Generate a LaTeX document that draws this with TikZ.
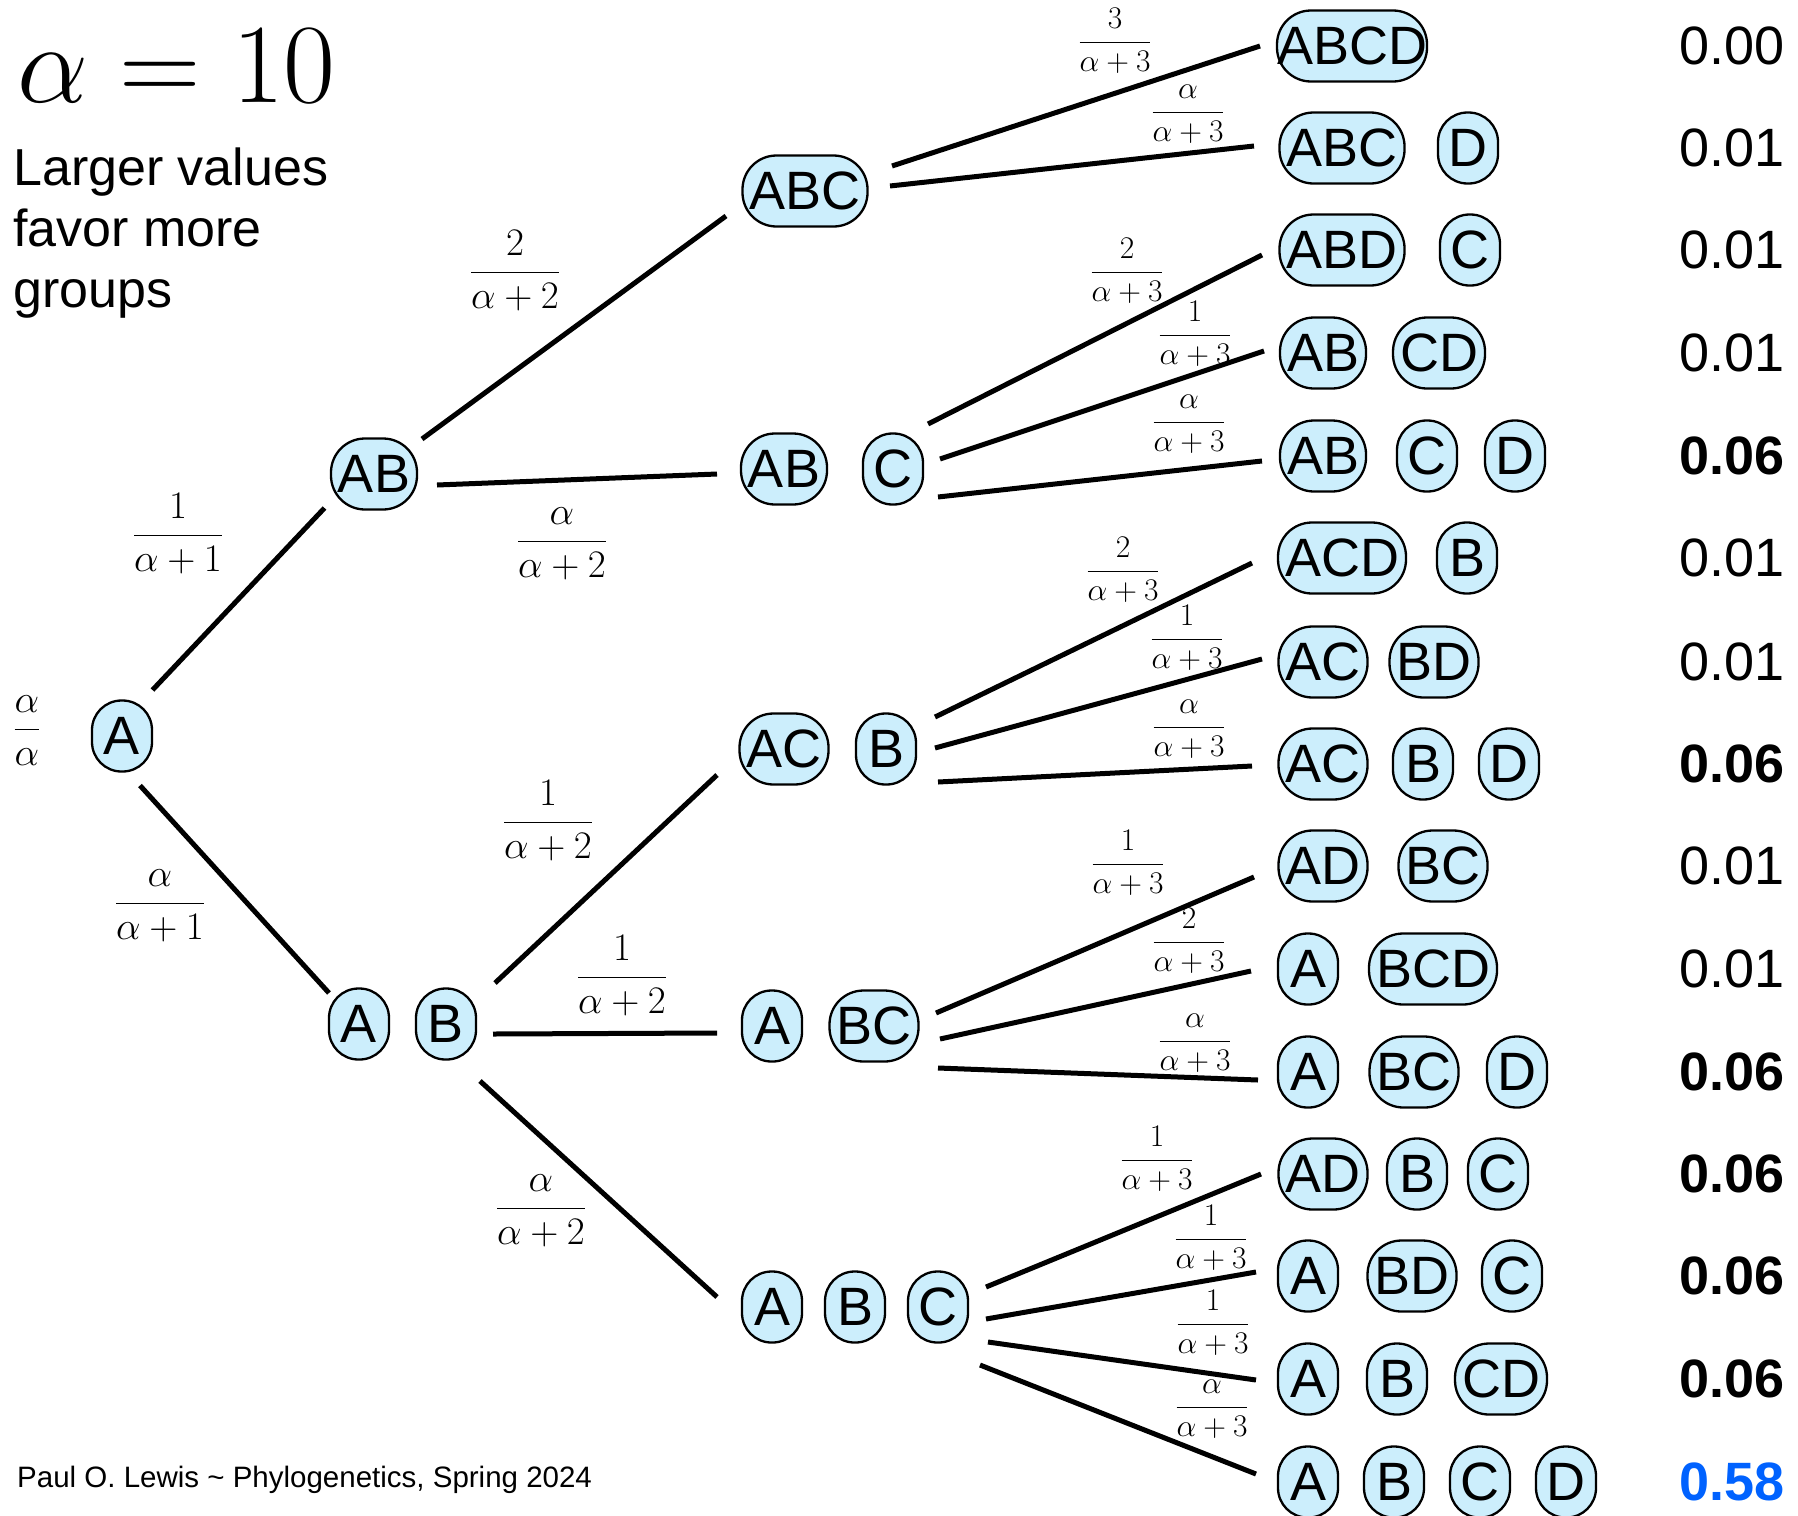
\RequirePackage{fix-cm}
\documentclass[tikz,border=0pt]{standalone}
\usepackage{fontspec}
\usetikzlibrary{calc}
\newfontfamily\hv{Liberation Sans}
\definecolor{grpfill}{RGB}{204,238,252}
\definecolor{hiblue}{RGB}{0,98,255}
\begin{document}
\begin{tikzpicture}[x=1pt,y=-1pt,
  grp/.style={draw, line width=2.3pt, fill=grpfill, rounded corners=34pt,
    minimum width=60pt, minimum height=71pt, inner xsep=7pt, inner ysep=0pt,
    font=\hv\fontsize{54}{54}\selectfont},
  one/.style={rounded corners=29.5pt},
  tight/.style={inner xsep=0pt},
  link/.style={line width=5pt},
  bigfrac/.style={font=\fontsize{39}{39}\selectfont, inner sep=0pt},
  smallfrac/.style={font=\fontsize{31.5}{31.5}\selectfont, inner sep=0pt},
  prob/.style={anchor=east, inner sep=0pt, font=\hv\fontsize{54}{54}\selectfont},
  bprob/.style={prob, font=\hv\bfseries\fontsize{54}{54}\selectfont}]
\useasboundingbox (0,0) rectangle (1798,1515);

% heading and notes
\node[anchor=west, inner sep=0pt, font=\fontsize{113}{113}\selectfont] (title) at (17,66) {$\alpha = 10$};
\node[anchor=north west, inner sep=0pt, align=left, font=\hv\fontsize{52}{61}\selectfont] (note) at (13,148)
  {Larger values\\favor more\\groups};
\node[anchor=base west, inner sep=0pt, font=\hv\fontsize{29.5}{29.5}\selectfont] (credit) at (17,1487)
  {Paul O. Lewis \char`~{} Phylogenetics, Spring 2024};

% level 0
\node[grp, one] (r0) at (122,736) {A};
\node[bigfrac] (f0) at (27,731) {$\displaystyle\frac{\alpha}{\alpha}$};

% level 1
\node[grp] (u1) at (374,474) {AB};
\node[grp, one] (v1a) at (359,1024) {A};
\node[grp, one] (v1b) at (446,1024) {B};

% level 2
\node[grp] (p2) at (805,191) {ABC};
\node[grp] (q2a) at (784,469) {AB};
\node[grp, one] (q2b) at (893,469) {C};
\node[grp] (s2a) at (784,749) {AC};
\node[grp, one] (s2b) at (886,749) {B};
\node[grp, one] (t2a) at (772,1026) {A};
\node[grp] (t2b) at (874,1026) {BC};
\node[grp, one] (w2a) at (772,1307) {A};
\node[grp, one] (w2b) at (855,1307) {B};
\node[grp, one] (w2c) at (938,1307) {C};

% level 3
\node[grp, tight] (k0a) at (1352,46) {ABCD};
\node[grp] (k1a) at (1342,148) {ABC};   \node[grp, one] (k1b) at (1468,148) {D};
\node[grp] (k2a) at (1342,250) {ABD};   \node[grp, one] (k2b) at (1470,250) {C};
\node[grp] (k3a) at (1323,353) {AB};    \node[grp] (k3b) at (1439,353) {CD};
\node[grp] (k4a) at (1323,456) {AB};    \node[grp, one] (k4b) at (1427,456) {C};   \node[grp, one] (k4c) at (1515,456) {D};
\node[grp] (k5a) at (1342,558) {ACD};   \node[grp, one] (k5b) at (1467,558) {B};
\node[grp] (k6a) at (1323,662) {AC};    \node[grp] (k6b) at (1434,662) {BD};
\node[grp] (k7a) at (1323,764) {AC};    \node[grp, one] (k7b) at (1423,764) {B};   \node[grp, one] (k7c) at (1509,764) {D};
\node[grp] (k8a) at (1323,866) {AD};    \node[grp] (k8b) at (1443,866) {BC};
\node[grp, one] (k9a) at (1308,969) {A};     \node[grp] (k9b) at (1433,969) {BCD};
\node[grp, one] (k10a) at (1308,1072) {A};   \node[grp] (k10b) at (1414,1072) {BC}; \node[grp, one] (k10c) at (1517,1072) {D};
\node[grp] (k11a) at (1323,1174) {AD};  \node[grp, one] (k11b) at (1417,1174) {B}; \node[grp, one] (k11c) at (1498,1174) {C};
\node[grp, one] (k12a) at (1308,1276) {A};   \node[grp] (k12b) at (1412,1276) {BD}; \node[grp, one] (k12c) at (1512,1276) {C};
\node[grp, one] (k13a) at (1308,1379) {A};   \node[grp, one] (k13b) at (1397,1379) {B}; \node[grp] (k13c) at (1501,1379) {CD};
\node[grp, one] (k14a) at (1308,1482) {A};   \node[grp, one] (k14b) at (1394,1482) {B}; \node[grp, one] (k14c) at (1480,1482) {C}; \node[grp, one] (k14d) at (1566,1482) {D};

% branches from level 0 to level 1
\draw[link] ($(r0)+(30.5,-46)$) -- ($(u1)+(-49.5,34)$);
\draw[link] ($(r0)+(18,49.5)$) -- ($(v1a)+(-30,-31)$);

% branches from level 1 to level 2
\draw[link] ($(u1)+(48,-35)$) -- ($(p2)+(-79,25)$);
\draw[link] ($(u1)+(63,11)$) -- ($(q2a)+(-67,5)$);
\draw[link] ($(v1b)+(49,-41)$) -- ($(s2a)+(-67,26)$);
\draw[link] ($(v1b)+(47,10)$) -- ($(t2a)+(-55,7)$);
\draw[link] ($(v1b)+(34,57)$) -- ($(w2a)+(-55,-10)$);

% branches from level 2 to level 3
\draw[link] ($(p2)+(87,-25)$) -- ($(k0a)+(-92,0)$);
\draw[link] ($(p2)+(85,-5)$) -- ($(k1a)+(-88,-2)$);
\draw[link] ($(q2b)+(35,-45)$) -- ($(k2a)+(-80,5)$);
\draw[link] ($(q2b)+(47,-10)$) -- ($(k3a)+(-59,-2)$);
\draw[link] ($(q2b)+(45,28)$) -- ($(k4a)+(-61,5)$);
\draw[link] ($(s2b)+(49,-32)$) -- ($(k5a)+(-90,5)$);
\draw[link] ($(s2b)+(49,-1)$) -- ($(k6a)+(-61,-3)$);
\draw[link] ($(s2b)+(52,33)$) -- ($(k7a)+(-71,2)$);
\draw[link] ($(t2b)+(62,-13)$) -- ($(k8a)+(-69,11)$);
\draw[link] ($(t2b)+(66,13)$) -- ($(k9a)+(-57,2)$);
\draw[link] ($(t2b)+(64,42)$) -- ($(k10a)+(-50,8)$);
\draw[link] ($(w2c)+(48,-20)$) -- ($(k11a)+(-62,0)$);
\draw[link] ($(w2c)+(48,12)$) -- ($(k12a)+(-52,-4)$);
\draw[link] ($(w2c)+(50,35)$) -- ($(k13a)+(-52,1)$);
\draw[link] ($(w2c)+(42,58)$) -- ($(k14a)+(-52,-8)$);

% branch probabilities
\node[bigfrac] (e1) at (178,534) {$\displaystyle\frac{1}{\alpha+1}$};
\node[bigfrac] (e2) at (160,906) {$\displaystyle\frac{\alpha}{\alpha+1}$};
\node[bigfrac] (e3) at (515,271) {$\displaystyle\frac{2}{\alpha+2}$};
\node[bigfrac] (e4) at (562,544) {$\displaystyle\frac{\alpha}{\alpha+2}$};
\node[bigfrac] (e5) at (548,821) {$\displaystyle\frac{1}{\alpha+2}$};
\node[bigfrac] (e6) at (622,976) {$\displaystyle\frac{1}{\alpha+2}$};
\node[bigfrac] (e7) at (541,1211) {$\displaystyle\frac{\alpha}{\alpha+2}$};

\node[smallfrac] (g0) at (1115,41) {$\displaystyle\frac{3}{\alpha+3}$};
\node[smallfrac] (g1) at (1188,114) {$\displaystyle\frac{\alpha}{\alpha+3}$};
\node[smallfrac] (g2) at (1127,271) {$\displaystyle\frac{2}{\alpha+3}$};
\node[smallfrac] (g3) at (1195,334) {$\displaystyle\frac{1}{\alpha+3}$};
\node[smallfrac] (g4) at (1189,424) {$\displaystyle\frac{\alpha}{\alpha+3}$};
\node[smallfrac] (g5) at (1123,570) {$\displaystyle\frac{2}{\alpha+3}$};
\node[smallfrac] (g6) at (1187,638) {$\displaystyle\frac{1}{\alpha+3}$};
\node[smallfrac] (g7) at (1189,729) {$\displaystyle\frac{\alpha}{\alpha+3}$};
\node[smallfrac] (g8) at (1128,863) {$\displaystyle\frac{1}{\alpha+3}$};
\node[smallfrac] (g9) at (1189,941) {$\displaystyle\frac{2}{\alpha+3}$};
\node[smallfrac] (g10) at (1195,1043) {$\displaystyle\frac{\alpha}{\alpha+3}$};
\node[smallfrac] (g11) at (1157,1159) {$\displaystyle\frac{1}{\alpha+3}$};
\node[smallfrac] (g12) at (1211,1238) {$\displaystyle\frac{1}{\alpha+3}$};
\node[smallfrac] (g13) at (1213,1323) {$\displaystyle\frac{1}{\alpha+3}$};
\node[smallfrac] (g14) at (1212,1409) {$\displaystyle\frac{\alpha}{\alpha+3}$};

% resulting probabilities
\node[prob]  (p0)  at (1785,46)   {0.00};
\node[prob]  (p1)  at (1785,148)  {0.01};
\node[prob]  (p2v) at (1785,250)  {0.01};
\node[prob]  (p3)  at (1785,353)  {0.01};
\node[bprob] (p4)  at (1785,456)  {0.06};
\node[prob]  (p5)  at (1785,558)  {0.01};
\node[prob]  (p6)  at (1785,662)  {0.01};
\node[bprob] (p7)  at (1785,764)  {0.06};
\node[prob]  (p8)  at (1785,866)  {0.01};
\node[prob]  (p9)  at (1785,969)  {0.01};
\node[bprob] (p10) at (1785,1072) {0.06};
\node[bprob] (p11) at (1785,1174) {0.06};
\node[bprob] (p12) at (1785,1276) {0.06};
\node[bprob] (p13) at (1785,1379) {0.06};
\node[bprob, text=hiblue] (p14) at (1785,1482) {0.58};
\end{tikzpicture}
\end{document}
